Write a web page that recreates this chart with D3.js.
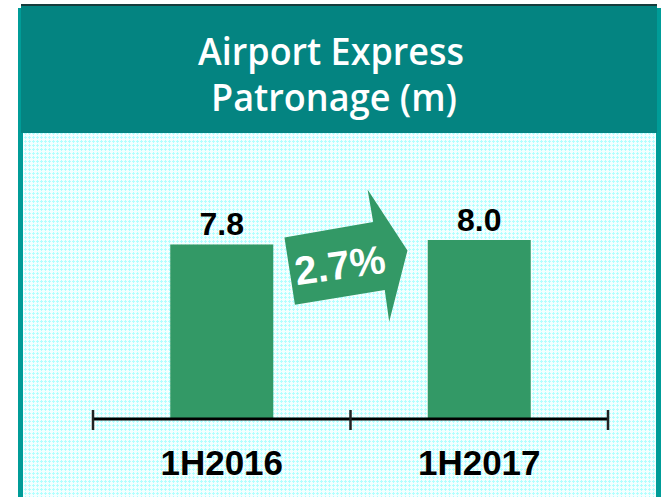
<!DOCTYPE html>
<html>
<head>
<meta charset="utf-8">
<script src="https://cdn.jsdelivr.net/npm/d3@7"></script>
<style>
  html, body { margin: 0; padding: 0; background: #fff; }
  svg { display: block; }
</style>
</head>
<body>
<div id="chart"></div>
<script>
// chart data
const titleLines = ['Airport Express', 'Patronage (m)'];
const periods = ['1H2016', '1H2017'];
const patronage = [7.8, 8.0];
const growthLabel = '2.7%';

const width = 661, height = 497;
const teal = '#048481', tealLight = '#009c98', green = '#339966';

const svg = d3.select('#chart').append('svg')
  .attr('width', width)
  .attr('height', height);

// dotted light cyan fill of the panel
const defs = svg.append('defs');
const pat = defs.append('pattern')
  .attr('id', 'dots')
  .attr('width', 4).attr('height', 4)
  .attr('patternUnits', 'userSpaceOnUse');
pat.append('rect').attr('width', 4).attr('height', 4).attr('fill', '#f4ffff');
pat.append('rect').attr('x', 1).attr('y', 0).attr('width', 1).attr('height', 3).attr('fill', '#b2ffff');
pat.append('rect').attr('x', 0).attr('y', 1).attr('width', 3).attr('height', 1).attr('fill', '#b2ffff');

// panel frame
svg.append('rect').attr('x', 18).attr('y', 8).attr('width', width - 18).attr('height', height - 8).attr('fill', tealLight);
svg.append('rect').attr('x', 21).attr('y', 4).attr('width', 636).attr('height', 129).attr('fill', teal);
svg.append('rect').attr('x', 21).attr('y', 4).attr('width', 636).attr('height', 2).attr('fill', '#163c3c');
svg.append('rect').attr('x', 23).attr('y', 133).attr('width', 633).attr('height', height - 133).attr('fill', 'url(#dots)');

// title
const titleMetrics = [{ cx: 331, y: 65, w: 266 }, { cx: 334, y: 111, w: 246 }];
svg.append('g').selectAll('text')
  .data(titleLines)
  .join('text')
  .attr('x', (d, i) => titleMetrics[i].cx)
  .attr('y', (d, i) => titleMetrics[i].y)
  .attr('text-anchor', 'middle')
  .attr('textLength', (d, i) => titleMetrics[i].w)
  .attr('lengthAdjust', 'spacingAndGlyphs')
  .style('font-family', '"Open Sans", sans-serif')
  .style('font-weight', '600')
  .style('font-size', '37px')
  .style('fill', '#fff')
  .text(d => d);

// scales
const x = d3.scaleBand().domain(periods).range([93, 608]).padding(0);
const y = d3.scaleLinear().domain([0, 8]).range([419, 240]);
const barW = x.bandwidth() * 0.4;

// bars
svg.append('g').selectAll('rect')
  .data(periods)
  .join('rect')
  .attr('x', d => x(d) + (x.bandwidth() - barW) / 2)
  .attr('y', (d, i) => y(patronage[i]))
  .attr('width', barW)
  .attr('height', (d, i) => y(0) - y(patronage[i]))
  .attr('fill', green);

// value labels
svg.append('g').selectAll('text')
  .data(periods)
  .join('text')
  .attr('x', d => x(d) + x.bandwidth() / 2)
  .attr('y', (d, i) => y(patronage[i]) - 9)
  .attr('text-anchor', 'middle')
  .style('font-family', 'Arial, "Liberation Sans", sans-serif')
  .style('font-weight', 'bold')
  .style('font-size', '32px')
  .text((d, i) => patronage[i].toFixed(1));

// axis: baseline with ticks at band edges
const axis = svg.append('g').attr('transform', `translate(0,${y(0)})`);
axis.append('line')
  .attr('x1', x.range()[0]).attr('x2', x.range()[1])
  .attr('stroke', '#000').attr('stroke-width', 3);
const edges = periods.map(d => x(d)).concat([x.range()[1]]);
axis.selectAll('line.tick')
  .data(edges)
  .join('line')
  .attr('class', 'tick')
  .attr('x1', d => d).attr('x2', d => d)
  .attr('y1', -9).attr('y2', 11)
  .attr('stroke', '#222').attr('stroke-width', 2.5);
axis.selectAll('text')
  .data(periods)
  .join('text')
  .attr('x', d => x(d) + x.bandwidth() / 2)
  .attr('y', 56)
  .attr('text-anchor', 'middle')
  .style('font-family', 'Arial, "Liberation Sans", sans-serif')
  .style('font-weight', 'bold')
  .style('font-size', '35px')
  .text(d => d);

// growth arrow between the bars
const midX = (x.range()[0] + x.range()[1]) / 2 - 4;
const arrowY = y(d3.max(patronage)) + 15;
const arrowShape = [[-59, -26], [31, -29], [30, -62], [61, 4], [33, 72], [33, 40], [-58, 42]];
const arrow = svg.append('g')
  .attr('transform', `translate(${midX},${arrowY}) rotate(-8)`);
arrow.append('path')
  .attr('d', d3.line()(arrowShape) + 'Z')
  .attr('fill', green);
arrow.append('text')
  .attr('x', -8).attr('y', 23)
  .attr('text-anchor', 'middle')
  .style('font-family', 'Arial, "Liberation Sans", sans-serif')
  .style('font-weight', 'bold')
  .style('font-size', '40px')
  .style('fill', '#fff')
  .text(growthLabel);
</script>
</body>
</html>
